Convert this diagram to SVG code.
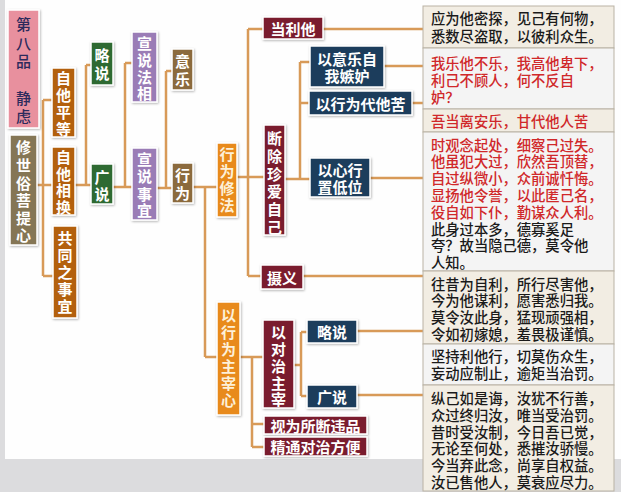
<svg xmlns="http://www.w3.org/2000/svg" width="621" height="492" viewBox="0 0 621 492">
<defs>
<filter id="sh" x="-20%" y="-20%" width="140%" height="140%">
<feDropShadow dx="0.8" dy="1" stdDeviation="0.8" flood-color="#000" flood-opacity="0.3"/>
</filter>
<style>
.n{stroke:#fff;stroke-width:1.5;filter:url(#sh)}
.t{font-family:"Noto Sans CJK SC","Noto Sans CJK JP",sans-serif;font-size:15px;font-weight:bold;fill:#fff;text-anchor:middle;dominant-baseline:central}
.c path{fill:none;stroke:#d89a58;stroke-width:2.5}
.bx{stroke:#b9b2a4;stroke-width:1}
.beige{fill:#f2ede3}
.gray{fill:#f4f4f4}
.p{font-family:"Noto Sans CJK SC","Noto Sans CJK JP",sans-serif;font-size:14.3px;font-weight:500;dominant-baseline:central}
.blk{fill:#1a1a1a}
.red{fill:#d0282a}
</style>
</defs>
<rect x="0" y="0" width="621" height="492" fill="#dcdcde"/>
<rect x="5" y="0" width="616" height="459" fill="#fefefe"/>

<g id="connectors" class="c">
<path d="M37,185H43M43,100V276M43,100H52M43,185H52M43,276H53"/>
<path d="M75,185H86M86,65V185M86,65H91M86,185H91"/>
<path d="M113,187H132M125,63V187M125,63H132"/>
<path d="M157,188H172M166,71V188M166,71H172"/>
<path d="M193,187H217M205,187V357M205,357H217"/>
<path d="M237,177H264M248,29V276M248,29H263M248,276H261"/>
<path d="M323,29H423"/>
<path d="M285,179H310M300,62V179M300,62H310M300,103H309"/>
<path d="M384,66H423M412,103H423M370,178H423M303,276H423"/>
<path d="M240,357H263M252,357V447M252,424H264M252,447H264"/>
<path d="M294,365H301M301,332V396M301,332H307M301,396H307"/>
<path d="M357,331H423M357,395H423"/>
</g>

<g id="n-jinglv">
<rect class="n" x="8" y="10" width="31" height="118" fill="#e8909e"/>
<text class="t" style="fill:#2c2a5c;font-weight:500"><tspan x="23.5" y="23">第</tspan><tspan x="23.5" y="42">八</tspan><tspan x="23.5" y="60">品</tspan><tspan x="23.5" y="97">静</tspan><tspan x="23.5" y="115">虑</tspan></text>
</g>
<g id="n-xiu">
<rect class="n" x="10" y="135" width="27" height="110" fill="#857654"/>
<text class="t"><tspan x="23.5" y="146">修</tspan><tspan x="23.5" y="164">世</tspan><tspan x="23.5" y="182">俗</tspan><tspan x="23.5" y="199">菩</tspan><tspan x="23.5" y="217">提</tspan><tspan x="23.5" y="234">心</tspan></text>
</g>
<g id="n-pingdeng">
<rect class="n" x="52" y="68" width="23" height="69" fill="#b3600f"/>
<text class="t"><tspan x="63.5" y="77">自</tspan><tspan x="63.5" y="94">他</tspan><tspan x="63.5" y="111">平</tspan><tspan x="63.5" y="128">等</tspan></text>
</g>
<g id="n-xianghuan">
<rect class="n" x="52" y="147" width="23" height="68" fill="#b3600f"/>
<text class="t"><tspan x="63.5" y="156">自</tspan><tspan x="63.5" y="173">他</tspan><tspan x="63.5" y="189">相</tspan><tspan x="63.5" y="206">换</tspan></text>
</g>
<g id="n-gongtong">
<rect class="n" x="53" y="226" width="24" height="92" fill="#b3600f"/>
<text class="t"><tspan x="65" y="237">共</tspan><tspan x="65" y="254">同</tspan><tspan x="65" y="271">之</tspan><tspan x="65" y="288">事</tspan><tspan x="65" y="305">宜</tspan></text>
</g>
<g id="n-lueshuo1">
<rect class="n" x="91" y="42" width="22" height="43" fill="#2e6b30"/>
<text class="t"><tspan x="102" y="54">略</tspan><tspan x="102" y="72">说</tspan></text>
</g>
<g id="n-guangshuo1">
<rect class="n" x="91" y="164" width="22" height="40" fill="#2e6b30"/>
<text class="t"><tspan x="102" y="176">广</tspan><tspan x="102" y="193">说</tspan></text>
</g>
<g id="n-faxiang">
<rect class="n" x="132" y="32" width="25" height="70" fill="#9a7cb6"/>
<text class="t"><tspan x="144.5" y="42">宣</tspan><tspan x="144.5" y="59">说</tspan><tspan x="144.5" y="76">法</tspan><tspan x="144.5" y="92">相</tspan></text>
</g>
<g id="n-shiyi">
<rect class="n" x="132" y="148" width="25" height="72" fill="#9a7cb6"/>
<text class="t"><tspan x="144.5" y="158">宣</tspan><tspan x="144.5" y="175">说</tspan><tspan x="144.5" y="193">事</tspan><tspan x="144.5" y="209">宜</tspan></text>
</g>
<g id="n-yile">
<rect class="n" x="172" y="49" width="21" height="41" fill="#8b6b3d"/>
<text class="t"><tspan x="182.5" y="60">意</tspan><tspan x="182.5" y="78">乐</tspan></text>
</g>
<g id="n-xingwei">
<rect class="n" x="172" y="163" width="21" height="40" fill="#8b6b3d"/>
<text class="t"><tspan x="182.5" y="174">行</tspan><tspan x="182.5" y="192">为</tspan></text>
</g>
<g id="n-xiufa">
<rect class="n" x="217" y="143" width="20" height="74" fill="#e88a1d"/>
<text class="t" style="fill:#fdf0d8"><tspan x="227" y="153">行</tspan><tspan x="227" y="170">为</tspan><tspan x="227" y="187">修</tspan><tspan x="227" y="204">法</tspan></text>
</g>
<g id="n-zhuzai">
<rect class="n" x="217" y="302" width="23" height="113" fill="#e88a1d"/>
<text class="t" style="fill:#fdf0d8"><tspan x="228.5" y="314">以</tspan><tspan x="228.5" y="331">行</tspan><tspan x="228.5" y="348">为</tspan><tspan x="228.5" y="365">主</tspan><tspan x="228.5" y="382">宰</tspan><tspan x="228.5" y="399">心</tspan></text>
</g>
<g id="n-danglita">
<rect class="n" x="263" y="17" width="60" height="22" fill="#7a1f2e"/>
<text class="t" x="293" y="28">当利他</text>
</g>
<g id="n-duanchu">
<rect class="n" x="264" y="125" width="21" height="110" fill="#7a1f2e"/>
<text class="t"><tspan x="274.5" y="137">断</tspan><tspan x="274.5" y="155">除</tspan><tspan x="274.5" y="173">珍</tspan><tspan x="274.5" y="190">爱</tspan><tspan x="274.5" y="208">自</tspan><tspan x="274.5" y="226">己</tspan></text>
</g>
<g id="n-jidu">
<rect class="n" x="310" y="46" width="74" height="41" fill="#1d3e5b"/>
<text class="t"><tspan x="347" y="57.5">以意乐自</tspan><tspan x="347" y="74.5">我嫉妒</tspan></text>
</g>
<g id="n-daitaku">
<rect class="n" x="309" y="91" width="103" height="24" fill="#1d3e5b"/>
<text class="t" x="360.5" y="103">以行为代他苦</text>
</g>
<g id="n-diwei">
<rect class="n" x="310" y="158" width="60" height="39" fill="#1d3e5b"/>
<text class="t"><tspan x="340" y="169">以心行</tspan><tspan x="340" y="186">置低位</tspan></text>
</g>
<g id="n-sheyi">
<rect class="n" x="261" y="265" width="42" height="24" fill="#7a1f2e"/>
<text class="t" x="282" y="277">摄义</text>
</g>
<g id="n-duizhi">
<rect class="n" x="263" y="320" width="31" height="88" fill="#7a1f2e"/>
<text class="t"><tspan x="278.5" y="331">以</tspan><tspan x="278.5" y="348">对</tspan><tspan x="278.5" y="365">治</tspan><tspan x="278.5" y="382">主</tspan><tspan x="278.5" y="398">宰</tspan></text>
</g>
<g id="n-lueshuo2">
<rect class="n" x="307" y="320" width="50" height="23" fill="#1d3e5b"/>
<text class="t" x="332" y="331.5">略说</text>
</g>
<g id="n-guangshuo2">
<rect class="n" x="307" y="385" width="50" height="23" fill="#1d3e5b"/>
<text class="t" x="332" y="396.5">广说</text>
</g>
<g id="n-weipin">
<rect class="n" x="264" y="416" width="103" height="18" fill="#7a1f2e"/>
<text class="t" x="315.5" y="425">视为所断违品</text>
</g>
<g id="n-fangbian">
<rect class="n" x="264" y="437" width="103" height="19" fill="#7a1f2e"/>
<text class="t" x="315.5" y="446.5">精通对治方便</text>
</g>

<g id="verses">
<rect class="bx beige" x="423" y="6" width="191" height="42"/>
<text class="p blk"><tspan x="431" y="17">应为他密探，见己有何物，</tspan><tspan x="431" y="35">悉数尽盗取，以彼利众生。</tspan></text>
<rect class="bx gray" x="423" y="48" width="191" height="61"/>
<text class="p red"><tspan x="431" y="61.5">我乐他不乐，我高他卑下，</tspan><tspan x="431" y="78.5">利己不顾人，何不反自</tspan><tspan x="431" y="95.5">妒？</tspan></text>
<rect class="bx beige" x="423" y="109" width="191" height="23"/>
<text class="p red" x="431" y="120.5">吾当离安乐，甘代他人苦</text>
<rect class="bx gray" x="423" y="132" width="191" height="139"/>
<text class="p red"><tspan x="431" y="143.5">时观念起处，细察己过失。</tspan><tspan x="431" y="160.3">他虽犯大过，欣然吾顶替，</tspan><tspan x="431" y="177.1">自过纵微小，众前诚忏悔。</tspan><tspan x="431" y="193.9">显扬他令誉，以此匿己名，</tspan><tspan x="431" y="210.7">役自如下仆，勤谋众人利。</tspan></text>
<text class="p blk"><tspan x="431" y="227.5">此身过本多，德寡奚足</tspan><tspan x="431" y="244.3">夸？故当隐己德，莫令他</tspan><tspan x="431" y="261.1">人知。</tspan></text>
<rect class="bx beige" x="423" y="271" width="191" height="73"/>
<text class="p blk"><tspan x="431" y="282.5">往昔为自利，所行尽害他，</tspan><tspan x="431" y="299.3">今为他谋利，愿害悉归我。</tspan><tspan x="431" y="316.1">莫令汝此身，猛现顽强相，</tspan><tspan x="431" y="332.9">令如初嫁媳，羞畏极谨慎。</tspan></text>
<rect class="bx gray" x="423" y="344" width="191" height="41"/>
<text class="p blk"><tspan x="431" y="355">坚持利他行，切莫伤众生，</tspan><tspan x="431" y="372">妄动应制止，逾矩当治罚。</tspan></text>
<rect class="bx beige" x="423" y="385" width="191" height="106"/>
<text class="p blk"><tspan x="431" y="397">纵己如是诲，汝犹不行善，</tspan><tspan x="431" y="413.8">众过终归汝，唯当受治罚。</tspan><tspan x="431" y="430.6">昔时受汝制，今日吾已觉，</tspan><tspan x="431" y="447.4">无论至何处，悉摧汝骄慢。</tspan><tspan x="431" y="464.2">今当弃此念，尚享自权益。</tspan><tspan x="431" y="481">汝已售他人，莫衰应尽力。</tspan></text>
</g>
</svg>
